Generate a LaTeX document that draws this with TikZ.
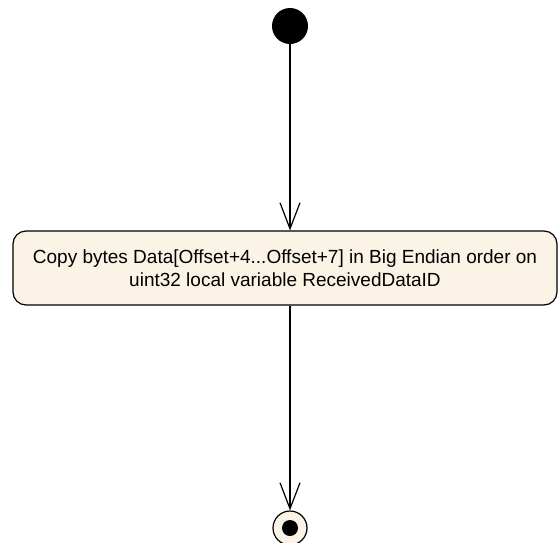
\documentclass[tikz,border=0pt]{standalone}
\usepackage{fontspec}
\setmainfont{Liberation Sans}
\usetikzlibrary{arrows.meta}
\definecolor{actfill}{HTML}{FBF3E6}
\begin{document}
\begin{tikzpicture}[x=1pt,y=-1pt,
  flow/.style={draw=black, line width=1.2pt, -{Straight Barb[length=26pt,width=20pt,line width=1.2pt]}},
  action/.style={draw=black, line width=1.2pt, fill=actfill, rounded corners=13pt, minimum width=544pt, minimum height=74pt, align=center, font=\fontsize{19pt}{23pt}\selectfont, inner sep=0pt}]
\useasboundingbox (0,0) rectangle (560,542);
\node[circle, fill=black, minimum size=36pt, inner sep=0pt] (start) at (290,26) {};
\node[action] (act) at (285,268) {Copy bytes Data[Offset+4...Offset+7] in Big Endian order on\\uint32 local variable ReceivedDataID};
\node[circle, draw=black, line width=1.2pt, fill=actfill, minimum size=34pt, inner sep=0pt] (end) at (290,528) {};
\node[circle, fill=black, minimum size=16pt, inner sep=0pt] at (end.center) {};
\draw[flow] (start) -- (start |- act.north);
\draw[flow] (end |- act.south) -- (end);
\end{tikzpicture}
\end{document}
